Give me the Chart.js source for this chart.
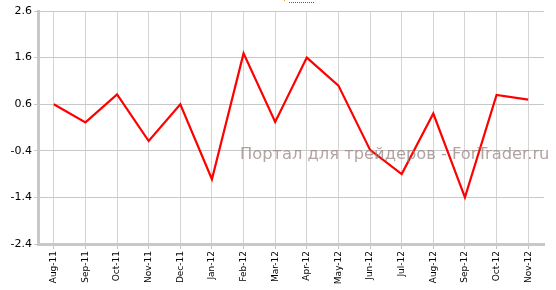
<!DOCTYPE html>
<html>
<head>
<meta charset="utf-8">
<script src="https://cdn.jsdelivr.net/npm/chart.js@4"></script>
<style>
  body { margin: 0; background: #fff; }
  #wrap { width: 556px; height: 290px; }
</style>
</head>
<body>
<div id="wrap"><canvas id="chart" width="556" height="290"></canvas></div>
<script>
const months = ['Aug-11', 'Sep-11', 'Oct-11', 'Nov-11', 'Dec-11', 'Jan-12', 'Feb-12', 'Mar-12',
                'Apr-12', 'May-12', 'Jun-12', 'Jul-12', 'Aug-12', 'Sep-12', 'Oct-12', 'Nov-12'];
const values = [0.6, 0.21, 0.81, -0.19, 0.6, -1.01, 1.69, 0.22,
                1.6, 1.0, -0.38, -0.9, 0.4, -1.4, 0.8, 0.7];
const yMin = -2.4;
const yMax = 2.6;
const watermark = 'Портал для трейдеров - ForTrader.ru';

// watermark text over the plot + the little dotted mark at the top
const decor = {
    id: 'decor',
    afterDatasetsDraw(chart) {
        const ctx = chart.ctx;
        ctx.save();
        ctx.font = '16.3px "DejaVu Sans"';
        ctx.fillStyle = 'rgba(150, 128, 128, 0.72)';
        ctx.textAlign = 'left';
        ctx.textBaseline = 'middle';
        ctx.fillText(watermark, 240, 155);

        ctx.fillStyle = '#f0a030';
        ctx.fillRect(284, 0, 1, 1);
        ctx.fillStyle = '#1a6fc0';
        for (let x = 289; x < 315; x += 2) ctx.fillRect(x, 2, 1, 1);
        ctx.restore();
    }
};

const ctx = document.getElementById('chart').getContext('2d');
new Chart(ctx, {
    type: 'line',
    data: {
        labels: months,
        datasets: [{
            data: values,
            borderColor: '#ff0000',
            borderWidth: 2.2,
            pointRadius: 0,
            tension: 0,
            fill: false
        }]
    },
    options: {
        responsive: false,
        animation: false,
        layout: { padding: { top: 11, right: 12, left: 0, bottom: 0 } },
        scales: {
            x: {
                offset: true,
                grid: { color: '#d4d4d4', lineWidth: 1, tickLength: 5, offset: false, tickColor: '#c0c0c0' },
                border: { color: '#c8c8c8', width: 3 },
                ticks: {
                    color: '#000',
                    font: { family: '"DejaVu Sans"', size: 9 },
                    minRotation: 90,
                    maxRotation: 90,
                    autoSkip: false,
                    padding: 2
                },
                afterFit(scale) { scale.height = 46; }
            },
            y: {
                min: yMin,
                max: yMax,
                grid: { color: '#c8c8c8', lineWidth: 1, tickLength: 4 },
                border: { color: '#c8c8c8', width: 3 },
                ticks: {
                    stepSize: 1,
                    color: '#000',
                    font: { family: '"DejaVu Sans"', size: 11 },
                    padding: 2,
                    callback: v => v.toFixed(1)
                },
                afterFit(scale) { scale.width = 38; }
            }
        },
        plugins: {
            legend: { display: false },
            tooltip: { enabled: false }
        }
    },
    plugins: [decor]
});
</script>
</body>
</html>
